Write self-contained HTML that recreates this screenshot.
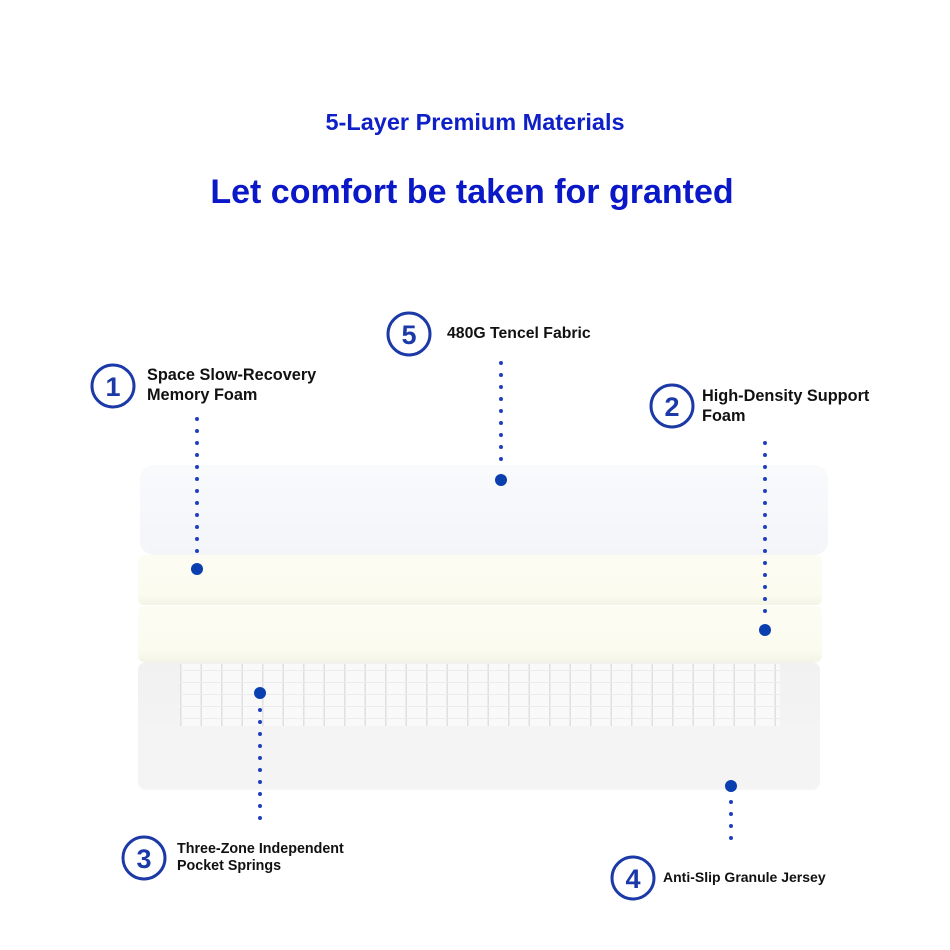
<!DOCTYPE html>
<html><head><meta charset="utf-8"><style>
html,body{margin:0;padding:0;background:#fff}
svg{display:block}
text{font-family:"Liberation Sans","DejaVu Sans",sans-serif;font-weight:bold}
</style></head><body>
<svg width="950" height="950" viewBox="0 0 950 950" xmlns="http://www.w3.org/2000/svg">
<defs>
<linearGradient id="g1" x1="0" y1="0" x2="0" y2="1"><stop offset="0" stop-color="#f9fafc"/><stop offset="1" stop-color="#f3f5f9"/></linearGradient>
<linearGradient id="g2" x1="0" y1="0" x2="0" y2="1"><stop offset="0" stop-color="#fcfcf3"/><stop offset="0.8" stop-color="#fbfbf0"/><stop offset="1" stop-color="#f3f3e6"/></linearGradient>
<linearGradient id="g4" x1="0" y1="0" x2="0" y2="1"><stop offset="0" stop-color="#f1f1f1"/><stop offset="1" stop-color="#f6f6f6"/></linearGradient>
<pattern id="sp" x="180" y="665" width="20.5" height="12" patternUnits="userSpaceOnUse">
<rect width="20.5" height="12" fill="#f9f9f9"/><rect x="0" y="0" width="1.5" height="12" fill="#e0e0e0"/><rect x="0" y="5" width="20.5" height="1" fill="#ececec"/>
</pattern>
</defs>
<text x="475" y="130" text-anchor="middle" font-size="23.5" fill="#1020c8">5-Layer Premium Materials</text>
<text x="472" y="203" text-anchor="middle" font-size="34" fill="#0a18c8">Let comfort be taken for granted</text>

<rect x="138" y="662" width="682" height="128" rx="8" fill="url(#g4)"/>
<rect x="138" y="730" width="682" height="58" rx="6" fill="#f4f4f4"/>
<rect x="180" y="664" width="600" height="62" fill="url(#sp)"/>
<rect x="138" y="606" width="684" height="56" rx="6" fill="url(#g2)"/>
<rect x="138" y="555" width="684" height="50" rx="6" fill="url(#g2)"/>
<rect x="140" y="465" width="688" height="90" rx="14" fill="url(#g1)"/>

<g stroke="#1f3fc0" stroke-width="4" stroke-linecap="round" stroke-dasharray="0 12" fill="none">
<line x1="197" y1="419" x2="197" y2="553"/>
<line x1="501" y1="363" x2="501" y2="462"/>
<line x1="765" y1="443" x2="765" y2="613"/>
<line x1="260" y1="710" x2="260" y2="822"/>
<line x1="731" y1="802" x2="731" y2="848"/>
</g>
<g fill="#0a3fb0">
<circle cx="197" cy="569" r="6"/><circle cx="501" cy="480" r="6"/><circle cx="765" cy="630" r="6"/>
<circle cx="260" cy="693" r="6"/><circle cx="731" cy="786" r="6"/>
</g>
<g fill="none" stroke="#1b3aa8" stroke-width="3">
<circle cx="113" cy="386" r="21"/><circle cx="409" cy="334" r="21"/><circle cx="672" cy="406" r="21"/>
<circle cx="144" cy="858" r="21"/><circle cx="633" cy="878" r="21"/>
</g>
<g fill="#1b3aa8" font-size="27" text-anchor="middle">
<text x="113" y="396">1</text><text x="409" y="344">5</text><text x="672" y="416">2</text>
<text x="144" y="868">3</text><text x="633" y="888">4</text>
</g>
<g fill="#111" font-size="16.3">
<text x="147" y="380">Space Slow-Recovery</text><text x="147" y="400">Memory Foam</text>
<text x="447" y="338" font-size="15.8">480G Tencel Fabric</text>
<text x="702" y="401">High-Density Support</text><text x="702" y="421">Foam</text>
<text x="177" y="853" font-size="14.3">Three-Zone Independent</text><text x="177" y="870" font-size="14.3">Pocket Springs</text>
<text x="663" y="882" font-size="14">Anti-Slip Granule Jersey</text>
</g>
</svg>
</body></html>
